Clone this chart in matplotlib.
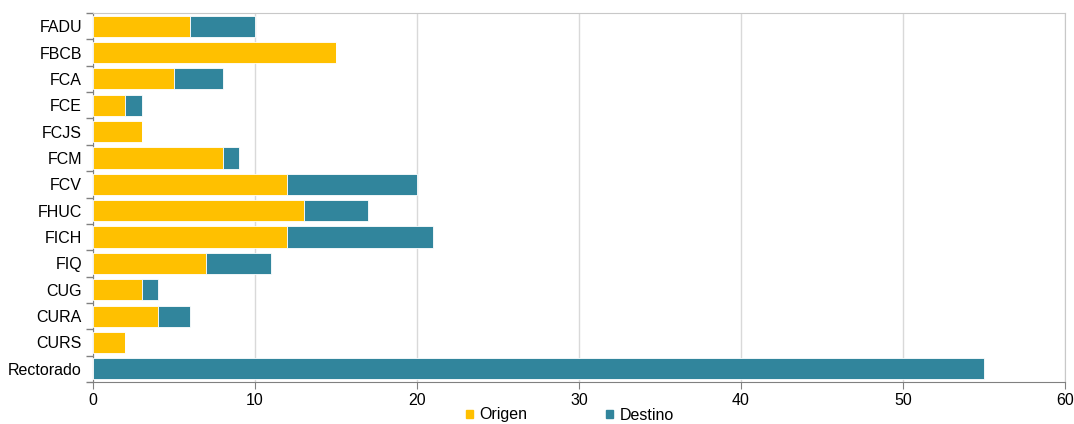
import numpy as np
import matplotlib.pyplot as plt
from matplotlib.patches import Patch

plt.rcParams['font.family'] = ['Liberation Sans', 'DejaVu Sans']

categories = ['FADU', 'FBCB', 'FCA', 'FCE', 'FCJS', 'FCM', 'FCV', 'FHUC',
              'FICH', 'FIQ', 'CUG', 'CURA', 'CURS', 'Rectorado']
origen = [6, 15, 5, 2, 3, 8, 12, 13, 12, 7, 3, 4, 2, 0]
destino = [4, 0, 3, 1, 0, 1, 8, 4, 9, 4, 1, 2, 0, 55]

c_origen = '#FFC000'
c_destino = '#31859C'

fig = plt.figure(figsize=(10.74, 4.24), dpi=100)
ax = fig.add_axes([93 / 1074, 1 - 382 / 424, 972 / 1074, 369 / 424])

y = np.arange(len(categories))[::-1]
ax.barh(y, origen, height=0.8, color=c_origen, edgecolor='white', linewidth=0.6, zorder=3)
ax.barh(y, destino, left=origen, height=0.8, color=c_destino, edgecolor='white', linewidth=0.6, zorder=3)

ax.set_xlim(0, 60)
ax.set_ylim(-0.5, len(categories) - 0.5)
ax.set_xticks(range(0, 61, 10))
ax.grid(axis='x', color='#d9d9d9', linewidth=1, zorder=0)

ax.set_yticks(y)
ax.set_yticklabels(categories, fontsize=11.5)
ax.set_yticks(np.arange(-0.5, len(categories), 1), minor=True)
ax.tick_params(axis='y', which='major', length=0, pad=8)
ax.tick_params(axis='y', which='minor', length=5, color='#808080', width=1)
ax.tick_params(axis='x', length=5, color='#808080', labelsize=11.5, pad=3)

for side in ['top', 'right']:
    ax.spines[side].set_color('#c8c8c8')
for side in ['left', 'bottom']:
    ax.spines[side].set_color('#808080')

handles = [Patch(color=c_origen, label='Origen'), Patch(color=c_destino, label='Destino')]
fig.legend(handles=handles, loc='center', bbox_to_anchor=(570 / 1074, 1 - 415 / 424), ncol=2,
           frameon=False, fontsize=11.5, handlelength=0.45, handleheight=0.45,
           handletextpad=0.4, columnspacing=4.9, borderpad=0)

fig.savefig('out.png', dpi=100)
